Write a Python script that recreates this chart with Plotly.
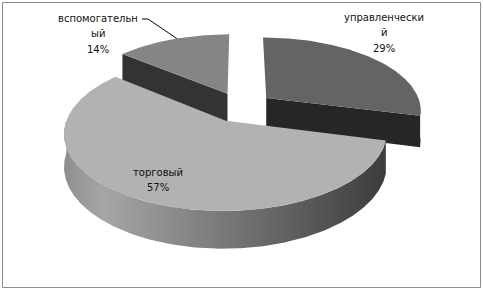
import numpy as np
import plotly.graph_objects as go

# ---- data ----
categories = ["управленческий", "торговый", "вспомогательный"]
percent = [29, 57, 14]

# ---- style ----
top_colors = ["#646464", "#b2b2b2", "#858585"]
side_colors = ["#262626", "#3e3e3e", "#333333"]
torg_gradient = [[0, "#8e8e8e"], [0.12, "#a6a6a6"], [1, "#3c3c3c"]]
W, H = 483, 291

# projection parameters (pseudo-3D perspective)
K, A, B, D = 0.15, 155.0, 72.0, 31.0
CX, CY = 241.0, 107.0
EXPLODE = 0.21
WRAP = 13


def proj(u, v, z):
    s = 1.0 / (1.0 + K * v)
    return CX + A * u * s, CY + (-B * v + z * D) * s


def wrap_lines(word, n=WRAP):
    return [word[i:i + n] for i in range(0, len(word), n)]


total = float(sum(percent))
angles = np.cumsum([0] + [p / total * 360.0 for p in percent])

fig = go.Figure()


def poly(xs, ys, color, grad=None):
    kw = dict(x=list(xs) + [xs[0]], y=list(ys) + [ys[0]], mode="lines", fill="toself",
              line=dict(width=0, color=color), hoverinfo="skip", showlegend=False)
    if grad is None:
        kw["fillcolor"] = color
    else:
        kw["fillgradient"] = dict(type="horizontal", colorscale=grad)
    fig.add_trace(go.Scatter(**kw))


centers = {}
for i in [2, 0, 1]:  # back to front
    a, b = angles[i], angles[i + 1]
    m = np.radians((a + b) / 2)
    cu, cv = EXPLODE * np.sin(m), EXPLODE * np.cos(m)
    centers[i] = (cu, cv)

    def edge(t, z):
        r = np.radians(t)
        return proj(cu + np.sin(r), cv + np.cos(r), z)

    # radial faces
    for ang, vis in ((a, np.sin(np.radians(a)) < -0.01), (b, np.sin(np.radians(b)) > 0.01)):
        if vis:
            p1 = proj(cu, cv, 0); p2 = edge(ang, 0); p3 = edge(ang, 1); p4 = proj(cu, cv, 1)
            poly([p1[0], p2[0], p3[0], p4[0]], [p1[1], p2[1], p3[1], p4[1]], side_colors[i])
    # outer curved side (front half only)
    t0, t1 = max(a, 90.0), min(b, 270.0)
    if t1 > t0:
        ts = np.linspace(t0, t1, int((t1 - t0) * 2) + 2)
        top = [edge(t, 0) for t in ts]
        bot = [edge(t, 1) for t in ts[::-1]]
        pts = top + bot
        grad = torg_gradient if i == 1 else None
        poly([p[0] for p in pts], [p[1] for p in pts], side_colors[i], grad)
    # top face
    ts = np.linspace(a, b, int((b - a) * 2) + 2)
    c = proj(cu, cv, 0)
    pts = [c] + [edge(t, 0) for t in ts]
    poly([p[0] for p in pts], [p[1] for p in pts], top_colors[i])

# labels (one annotation per line for Excel-like line spacing)
label_pos = {0: (384, 17), 1: (158, 172), 2: (98, 18)}
LINE_H = 15.5
for i, cat in enumerate(categories):
    lines = wrap_lines(cat)[:2] + [f"{percent[i]}%"]
    x, y0 = label_pos[i]
    for j, ln in enumerate(lines):
        fig.add_annotation(x=x, y=y0 + j * LINE_H, xref="x", yref="y", text=ln,
                           showarrow=False, align="center", yanchor="middle",
                           font=dict(family="DejaVu Sans", size=10, color="#111111"))

# leader line for small slice
a, b = angles[2], angles[3]
cu, cv = centers[2]
r = np.radians((a + b) / 2 + 2)
ex, ey = proj(cu + np.sin(r), cv + np.cos(r), 0)
fig.add_trace(go.Scatter(x=[142, 148, ex], y=[19, 19, ey], mode="lines",
                         line=dict(color="#000000", width=1), hoverinfo="skip", showlegend=False))

fig.add_shape(type="rect", x0=2.5, x1=480.5, y0=2.5, y1=287.5, xref="x", yref="y",
              line=dict(color="#8c8c8c", width=1))

fig.update_layout(width=W, height=H, margin=dict(l=0, r=0, t=0, b=0),
                  paper_bgcolor="white", plot_bgcolor="white",
                  xaxis=dict(range=[0, W], visible=False, fixedrange=True),
                  yaxis=dict(range=[H, 0], visible=False, fixedrange=True))
fig.write_html("out.html")
